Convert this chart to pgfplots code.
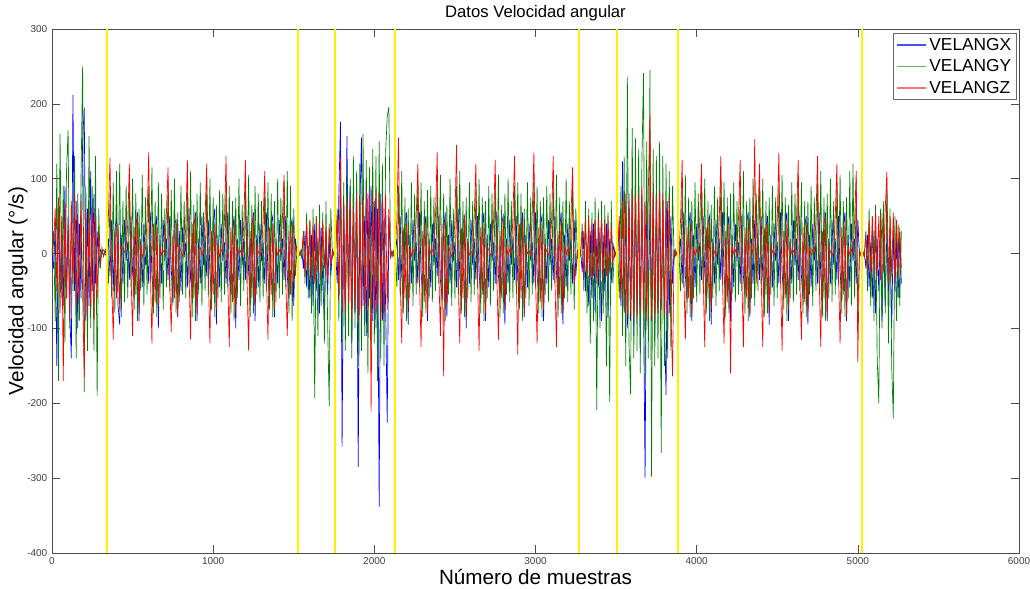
\documentclass[border=0pt]{standalone}
\usepackage{pgfplots}
\pgfplotsset{compat=1.18}
\usepackage{pgfplotstable}
\usepackage{fontspec}
\setmainfont{Liberation Sans}
\definecolor{mblue}{rgb}{0,0,1}
\definecolor{mgreen}{rgb}{0,0.5,0}
\definecolor{mred}{rgb}{1,0,0}
\definecolor{lblue}{rgb}{0.3,0.3,1}
\definecolor{lgreen}{rgb}{0.4,0.7,0.4}
\definecolor{lred}{rgb}{1,0.45,0.45}
\pgfplotstableread{
x X Y Z
0 0 0 0
10 -20 30 15
20 40 -90 60
30 -150 120 -50
40 60 -170 75
50 -40 160 -80
60 30 -60 50
70 -70 90 -170
80 90 -120 70
90 -60 110 -60
100 50 165 40
110 -80 -100 -90
120 -140 70 65
130 212 -50 -40
140 -50 130 80
150 70 -140 -70
160 -100 80 50
170 40 -90 -60
180 -60 100 70
190 150 250 -50
200 195 -185 -165
210 -90 90 60
220 60 -130 -80
230 -70 157 55
240 110 -100 -70
250 -50 90 60
260 80 -130 -90
270 -40 130 50
280 30 -190 -60
290 -20 60 30
300 5 -20 -10
310 2 8 3
320 -3 -4 5
330 4 6 -2
340 -2 5 2
350 20 -40 50
360 -30 80 128
370 45 -60 -30
380 -50 95 -115
390 30 -80 30
400 50 110 -60
410 -70 -50 40
420 -95 120 -75
430 25 -85 10
440 -40 70 5
450 45 -65 2
460 -10 90 8
470 15 -60 40
480 -35 85 120
490 50 -45 -25
500 -25 100 -110
510 -60 -75 35
520 35 80 -55
530 55 -90 50
540 -90 60 -80
550 20 -50 15
560 -45 105 -5
570 40 -70 3
580 -15 75 6
590 10 -55 45
600 -40 90 135
610 55 -35 -20
620 -30 115 -120
630 -55 -80 40
640 30 70 -65
650 50 -85 35
660 -100 95 -70
670 25 -60 12
680 -40 80 -2
690 45 -75 4
700 -10 60 0
710 20 -45 55
720 -35 95 115
730 50 -50 -35
740 -20 85 -105
750 -65 -70 25
760 40 100 -60
770 45 -80 45
780 -85 55 -85
790 30 -65 10
800 -50 90 3
810 35 -55 -4
820 -5 70 5
830 15 -60 35
840 -45 85 125
850 60 -40 -25
860 -35 110 -115
870 -50 -85 40
880 35 65 -60
890 55 -90 50
900 -90 80 -80
910 20 -55 5
920 -40 95 8
930 50 -70 -2
940 -15 55 3
950 25 -50 50
960 -30 90 120
970 45 -55 -30
980 -25 100 -120
990 -60 -75 30
1000 40 75 -55
1010 60 -85 40
1020 -95 65 -75
1030 25 -60 15
1040 -45 85 -5
1050 40 -65 5
1060 -10 80 2
1070 15 -55 45
1080 -40 95 130
1090 55 -45 -25
1100 -30 90 -125
1110 -55 -80 35
1120 30 70 -65
1130 50 -90 45
1140 -100 75 -80
1150 20 -60 10
1160 -35 100 0
1170 45 -70 4
1180 -15 65 -3
1190 20 -50 40
1200 -35 85 125
1210 50 -40 -35
1220 -25 105 -130
1230 -60 -85 30
1240 35 65 -60
1250 55 -80 50
1260 -90 90 -70
1270 25 -55 12
1280 -45 80 2
1290 40 -65 -3
1300 -10 70 5
1310 15 -60 45
1320 -40 90 110
1330 55 -50 -25
1340 -30 95 -115
1350 -55 -75 35
1360 40 80 -55
1370 50 -85 40
1380 -85 70 -75
1390 20 -65 10
1400 -40 100 -2
1410 45 -60 5
1420 -10 75 0
1430 20 -55 50
1440 -35 95 105
1450 50 -45 -30
1460 -30 110 -110
1470 -60 -80 30
1480 35 90 -55
1490 45 -90 40
1500 -70 60 -40
1510 20 -30 10
1520 3 5 2
1530 -2 -3 0
1540 0 4 -3
1550 5 -6 4
1560 -20 30 25
1570 30 -40 -30
1580 -45 55 40
1590 10 -60 -20
1600 -60 45 45
1610 25 -80 -35
1620 -70 60 35
1630 40 -193 -40
1640 -50 50 50
1650 20 -110 -25
1660 -80 65 40
1670 35 -70 -30
1680 -40 55 45
1690 -90 -120 -20
1700 30 70 35
1710 -55 -90 -35
1720 20 -204 40
1730 -30 60 -15
1740 5 -5 3
1750 -3 4 -2
1760 2 -3 5
1770 -40 60 50
1780 80 -90 -60
1790 176 110 128
1800 -258 -120 -70
1810 60 95 65
1820 -90 -130 -80
1830 157 120 70
1840 -60 -110 -65
1850 90 100 75
1860 -120 -140 -85
1870 70 130 60
1880 -80 -100 -75
1890 100 110 80
1900 -285 -150 -90
1910 60 120 70
1920 155 -130 -80
1930 -70 160 75
1940 50 -110 -70
1950 -110 125 85
1960 80 -160 -75
1970 -60 115 80
1980 90 -130 -211
1990 -90 140 75
2000 70 -120 -80
2010 -100 130 85
2020 60 -170 -70
2030 -338 150 80
2040 80 -140 -90
2050 -90 120 70
2060 60 -150 -85
2070 -70 135 80
2080 -226 183 -75
2090 50 196 60
2100 -5 10 -4
2110 3 -5 2
2120 -2 4 -3
2130 4 -2 5
2140 20 -45 45
2150 -35 90 155
2160 50 -55 -30
2170 -30 110 -120
2180 -60 -80 35
2190 40 75 -60
2200 55 -90 40
2210 -95 60 -75
2220 25 -60 10
2230 -40 95 -3
2240 45 -70 4
2250 -10 80 2
2260 15 -55 50
2270 -40 100 120
2280 55 -45 -35
2290 -25 95 -125
2300 -55 -85 30
2310 35 70 -65
2320 50 -80 45
2330 -90 85 -80
2340 20 -60 12
2350 -45 90 0
2360 40 -65 5
2370 -15 75 -2
2380 20 -50 55
2390 -30 95 135
2400 50 -40 -25
2410 -35 105 -110
2420 -60 -75 40
2430 30 80 -164
2440 55 -90 45
2450 -85 65 -70
2460 25 -55 10
2470 -40 100 3
2480 45 -70 -4
2490 -10 60 5
2500 15 -60 45
2510 -45 90 145
2520 60 -50 -30
2530 -30 110 -120
2540 -55 -80 35
2550 40 70 -60
2560 50 -85 50
2570 -100 75 -85
2580 20 -60 15
2590 -40 95 -2
2600 45 -65 3
2610 -15 70 0
2620 20 -55 50
2630 -35 85 120
2640 50 -45 -25
2650 -25 100 -130
2660 -60 -80 35
2670 35 75 -55
2680 55 -90 40
2690 -90 70 -80
2700 25 -60 10
2710 -45 90 5
2720 40 -70 -3
2730 -10 80 4
2740 15 -50 45
2750 -40 95 125
2760 55 -40 -30
2770 -30 105 -115
2780 -55 -85 30
2790 40 65 -60
2800 50 -80 45
2810 -95 80 -75
2820 20 -55 10
2830 -40 100 -2
2840 45 -65 5
2850 -15 70 0
2860 20 -60 50
2870 -35 90 130
2880 50 -50 -25
2890 -35 95 -135
2900 -60 -75 40
2910 35 80 -60
2920 55 -90 45
2930 -85 60 -80
2940 25 -60 12
2950 -45 95 0
2960 40 -70 4
2970 -10 75 -3
2980 15 -55 55
2990 -40 100 135
3000 55 -45 -30
3010 -30 90 -120
3020 -55 -80 35
3030 40 70 -65
3040 50 -85 40
3050 -90 75 -75
3060 20 -55 10
3070 -40 90 3
3080 45 -65 -2
3090 -15 80 5
3100 20 -50 45
3110 -35 95 130
3120 50 -40 -30
3130 -25 105 -125
3140 -60 -85 30
3150 35 75 -60
3160 55 -80 45
3170 -95 70 -80
3180 25 -60 10
3190 -45 100 -2
3200 40 -65 5
3210 -10 70 0
3220 20 -55 50
3230 -40 110 115
3240 45 -75 -40
3250 -30 60 -20
3260 3 -5 4
3270 -2 4 -3
3280 4 -3 2
3290 -25 40 30
3300 30 -50 -35
3310 -50 70 45
3320 15 -80 -25
3330 -70 60 50
3340 30 -120 -35
3350 -60 55 40
3360 40 -90 -30
3370 -80 75 45
3380 20 -209 -40
3390 -45 60 50
3400 35 -100 -25
3410 -90 70 45
3420 25 -80 -35
3430 -50 65 40
3440 40 -150 -30
3450 -85 55 50
3460 20 -198 -25
3470 -40 70 35
3480 15 -40 -10
3490 -4 6 3
3500 3 -4 -2
3510 -2 5 4
3520 40 -60 50
3530 -70 90 -60
3540 123 -110 70
3550 -80 130 -75
3560 70 -150 80
3570 -100 236 -85
3580 80 -120 70
3590 -90 -188 -80
3600 60 168 85
3610 -110 -140 -90
3620 90 154 75
3630 -80 -130 -85
3640 70 140 80
3650 -120 -160 -75
3660 80 120 90
3670 -60 241 -80
3680 -300 -170 70
3690 90 150 -90
3700 -70 -140 85
3710 60 245 185
3720 -90 -298 -85
3730 80 140 80
3740 -110 -150 -90
3750 70 130 75
3760 -80 -140 -80
3770 90 150 85
3780 -70 -266 -75
3790 60 130 80
3800 -90 -150 -85
3810 -189 120 70
3820 70 -140 -80
3830 -80 110 75
3840 50 -130 -70
3850 -40 90 -164
3860 5 -8 4
3870 -3 5 -2
3880 2 -4 3
3890 -4 3 -3
3900 20 -50 45
3910 -40 90 125
3920 55 -45 -30
3930 -30 105 -115
3940 -60 -80 35
3950 35 75 -60
3960 55 -85 40
3970 -90 70 -80
3980 25 -60 10
3990 -45 95 -3
4000 40 -65 5
4010 -10 80 0
4020 15 -55 50
4030 -35 95 120
4040 50 -45 -25
4050 -25 100 -125
4060 -55 -80 35
4070 40 70 -60
4080 50 -90 45
4090 -95 65 -75
4100 20 -60 10
4110 -40 90 2
4120 45 -70 -4
4130 -15 75 3
4140 20 -50 45
4150 -35 100 130
4160 55 -40 -35
4170 -30 95 -120
4180 -60 -85 30
4190 35 75 -65
4200 50 -80 40
4210 -90 80 -160
4220 25 -55 12
4230 -45 95 0
4240 40 -65 5
4250 -10 70 -2
4260 15 -55 50
4270 -40 90 125
4280 50 -50 -30
4290 -30 110 -125
4300 -55 -80 35
4310 40 70 -60
4320 55 -90 45
4330 -85 75 -80
4340 20 -60 10
4350 -40 100 -2
4360 45 -70 153
4370 -15 80 -40
4380 20 -50 45
4390 -35 95 120
4400 50 -45 -30
4410 -30 100 -125
4420 -60 -85 35
4430 35 70 -55
4440 50 -80 40
4450 -95 75 -80
4460 25 -55 10
4470 -45 90 3
4480 40 -70 -3
4490 -10 75 5
4500 15 -60 45
4510 -40 90 135
4520 55 -40 -25
4530 -25 105 -130
4540 -55 -75 30
4550 40 75 -60
4560 55 -90 45
4570 -90 65 -75
4580 20 -60 12
4590 -40 95 0
4600 45 -65 4
4610 -15 80 -2
4620 20 -55 50
4630 -35 100 125
4640 50 -50 -35
4650 -30 95 -115
4660 -60 -80 35
4670 35 70 -65
4680 50 -85 40
4690 -95 70 -80
4700 25 -55 10
4710 -45 90 -3
4720 40 -70 5
4730 -10 75 2
4740 15 -50 45
4750 -40 95 130
4760 55 -45 -30
4770 -30 110 -125
4780 -55 -85 30
4790 40 75 -60
4800 55 -90 50
4810 -90 80 -85
4820 20 -60 10
4830 -40 100 2
4840 45 -65 -3
4850 -15 70 4
4860 20 -55 50
4870 -35 90 120
4880 50 -40 -25
4890 -25 105 -120
4900 -60 -80 35
4910 35 70 -55
4920 55 -85 45
4930 -90 75 -85
4940 25 -60 10
4950 -45 110 -2
4960 40 -70 5
4970 -10 120 0
4980 20 -60 45
4990 -40 100 110
5000 45 -80 -145
5010 -3 5 3
5020 2 -4 -2
5030 -4 3 4
5040 3 -5 -3
5050 -20 30 25
5060 25 -50 -20
5070 -45 60 45
5080 15 -70 -30
5090 -60 50 50
5100 30 -90 -25
5110 -80 65 55
5120 20 -140 -30
5130 -50 -200 50
5140 35 60 -35
5150 -90 -100 55
5160 25 70 -25
5170 -70 -80 60
5180 30 95 109
5190 -60 -120 -40
5200 20 60 50
5210 -100 -150 -30
5220 30 -220 55
5230 -50 50 -40
5240 20 -90 45
5250 -60 40 -30
5260 25 -70 35
5270 -40 30 -20
}\data

\begin{document}
\begin{tikzpicture}
\begin{axis}[
  name=ax, scale only axis, width=725.25pt, height=393pt,
  xmin=0, xmax=6000, ymin=-400, ymax=300,
  xtick={0,1000,...,6000}, ytick={-400,-300,...,300},
  tick align=inside, major tick length=6pt,
  tick style={black!70, line width=0.5pt},
  axis line style={black!70, line width=0.6pt},
  ticklabel style={font=\fontsize{7.5}{9}\selectfont, text=black!75},
  /pgf/number format/assume math mode=true,
  /pgf/number format/1000 sep={},
  scaled ticks=false,
  every axis title shift=0pt,
  title={Datos Velocidad angular},
  title style={font=\fontsize{12.5}{14}\selectfont, at={(axis description cs:0.5,1.0305)}, anchor=center, inner sep=0pt},
  xlabel={Número de muestras}, ylabel={Velocidad angular (°/s)},
  label style={font=\fontsize{15.5}{18}\selectfont, inner sep=0pt},
  xlabel style={at={(axis description cs:0.5,-0.046)}, anchor=center},
  ylabel style={at={(axis description cs:-0.0352,0.5)}, anchor=center},
  legend style={at={(1,1)}, anchor=north east, xshift=-1.5pt, yshift=-3pt,
    font=\fontsize{13}{15}\selectfont, draw=black!60, line width=0.6pt,
    inner xsep=2pt, inner ysep=1.5pt, row sep=1.5pt},
  legend cell align=left,
  legend image code/.code={\draw[#1] (0pt,0pt) -- (22pt,0pt);},
]
\addplot[mblue, line width=0.5pt, forget plot] table[x=x,y=X]{\data};
\addplot[mgreen, line width=0.5pt, forget plot] table[x=x,y=Y]{\data};
\addplot[mred, line width=0.5pt, forget plot] table[x=x,y=Z]{\data};
\addplot[yellow, line width=1.5pt, forget plot] coordinates {(341,-400) (341,300)};
\addplot[yellow, line width=1.5pt, forget plot] coordinates {(1526,-400) (1526,300)};
\addplot[yellow, line width=1.5pt, forget plot] coordinates {(1756,-400) (1756,300)};
\addplot[yellow, line width=1.5pt, forget plot] coordinates {(2128,-400) (2128,300)};
\addplot[yellow, line width=1.5pt, forget plot] coordinates {(3269,-400) (3269,300)};
\addplot[yellow, line width=1.5pt, forget plot] coordinates {(3505,-400) (3505,300)};
\addplot[yellow, line width=1.5pt, forget plot] coordinates {(3883,-400) (3883,300)};
\addplot[yellow, line width=1.5pt, forget plot] coordinates {(5025,-400) (5025,300)};
\addlegendimage{draw=lblue, line width=1pt}
\addlegendentry{VELANGX}
\addlegendimage{draw=lgreen, line width=1pt}
\addlegendentry{VELANGY}
\addlegendimage{draw=lred, line width=1pt}
\addlegendentry{VELANGZ}
\end{axis}
\pgfresetboundingbox
\useasboundingbox ([xshift=-39pt,yshift=-27pt]ax.south west) rectangle ([xshift=8.25pt,yshift=21.75pt]ax.north east);
\end{tikzpicture}
\end{document}
